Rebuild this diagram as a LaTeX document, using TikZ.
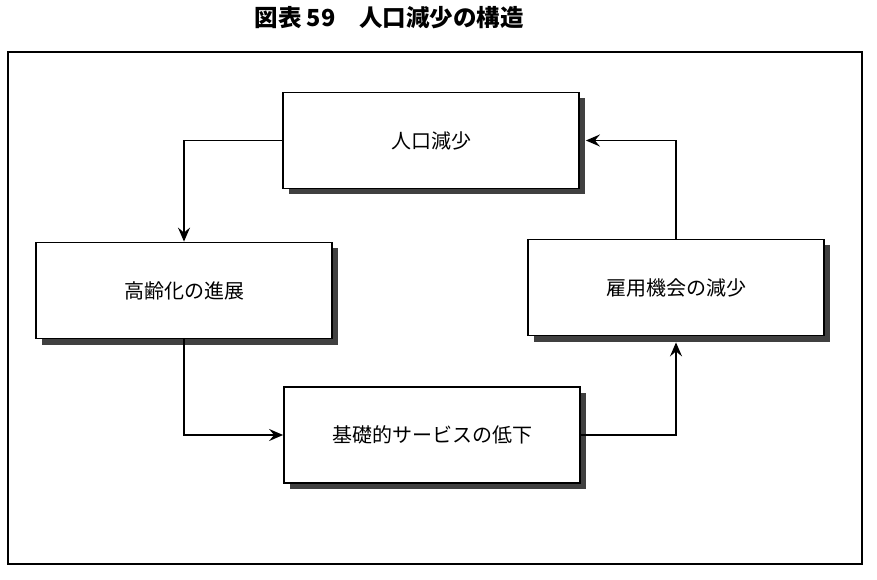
\documentclass[tikz,border=0pt]{standalone}
\usepackage{fontspec}
\setmainfont{Noto Sans CJK JP}
\usetikzlibrary{arrows.meta, shadows}

\begin{document}
\begin{tikzpicture}[x=1pt, y=1pt, line width=1.8pt,
    boxnode/.style={draw, fill=white, minimum width=296pt, minimum height=96pt,
        font=\fontsize{20}{20}\selectfont,
        drop shadow={shadow xshift=6pt, shadow yshift=-6pt, fill=black!75, opacity=1}},
    flow/.style={-{Stealth[length=14pt, width=12pt, inset=5pt]}}]
    \useasboundingbox (0,0) rectangle (877,579);
    \node (title) at (389,561) {\fontsize{23.5}{23.5}\selectfont\bfseries 図表 59　人口減少の構造};
    \draw (8,15) rectangle (862,527);
    \node[boxnode] (jinko) at (431,438.5) {人口減少};
    \node[boxnode] (korei) at (184,288.5) {高齢化の進展};
    \node[boxnode] (koyo) at (676,291.5) {雇用機会の減少};
    \node[boxnode] (kiso) at (432,144) {基礎的サービスの低下};
    \draw[flow] (jinko.west) -| (korei.north);
    \draw[flow] (korei.south) |- (kiso.west);
    \draw[flow, shorten >=6pt] (kiso.east) -| (koyo.south);
    \draw[flow, shorten >=6pt] (koyo.north) |- (jinko.east);
\end{tikzpicture}
\end{document}
